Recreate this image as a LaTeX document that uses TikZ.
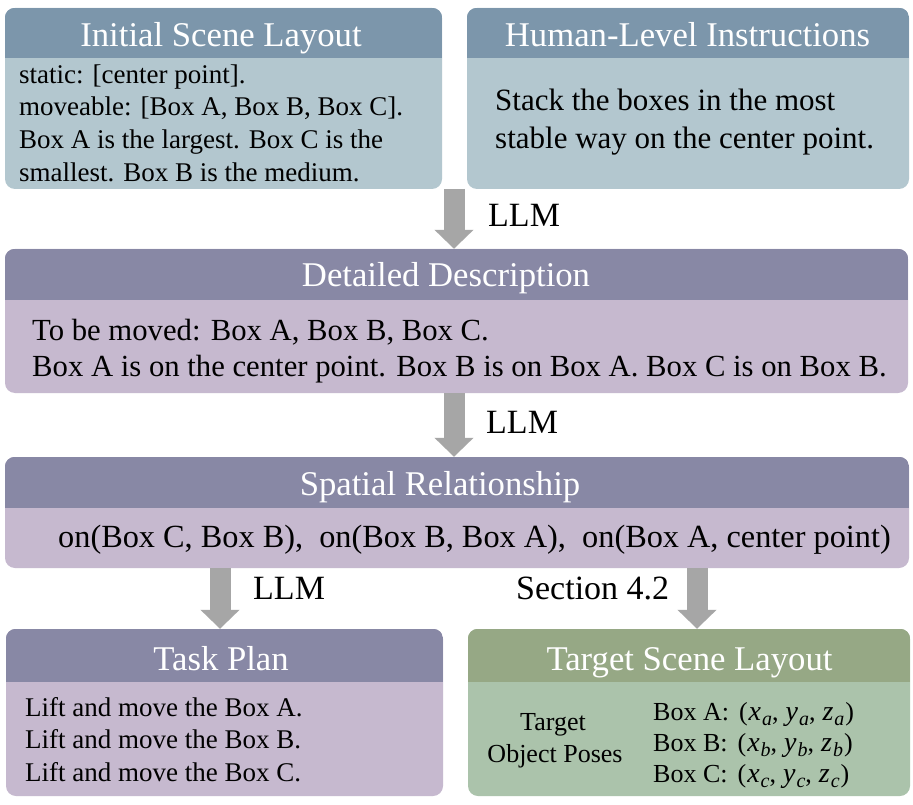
\documentclass[tikz,border=0pt]{standalone}
\usepackage{fontspec}
\setmainfont{Liberation Serif}
\usetikzlibrary{arrows.meta,calc}
\definecolor{bhead}{HTML}{7C96AB}
\definecolor{bbody}{HTML}{B3C7CF}
\definecolor{phead}{HTML}{8888A5}
\definecolor{pbody}{HTML}{C6B9CF}
\definecolor{ghead}{HTML}{96A885}
\definecolor{gbody}{HTML}{ABC3AB}
\definecolor{arrowgray}{HTML}{A6A6A6}
\tikzset{
  boxbody/.style={rectangle, rounded corners=10pt, inner sep=0pt, draw=none},
  hdrtext/.style={font=\fontsize{34.7}{40}\selectfont, text=white, anchor=base, inner sep=0pt},
  bodyS/.style={font=\fontsize{27}{32}\selectfont, anchor=base west, inner sep=0pt},
  bodyT/.style={font=\fontsize{26}{31}\selectfont, anchor=base, inner sep=0pt},
  bodyL/.style={font=\fontsize{31}{37}\selectfont, anchor=base west, inner sep=0pt},
  lbl/.style={font=\fontsize{34}{40}\selectfont, anchor=base west, inner sep=0pt},
  bigarrow/.style={draw=arrowgray, line width=21pt, -{Triangle[width=38pt,length=19pt]}},
}
\newcommand{\headerband}[3]{%
  \begin{scope}
    \clip[rounded corners=10pt] (#1.south west) rectangle (#1.north east);
    \fill[#2] (#1.north west) rectangle ([yshift=-#3pt]#1.north east);
  \end{scope}}
\newcommand{\vsub}[2]{{\fontsize{28}{30}\selectfont\textit{#1}}\hspace{1pt}\raisebox{-0.22em}{\fontsize{20}{21}\selectfont\textit{#2}}}
\newcommand{\poseof}[1]{(\hspace{1pt}\vsub{x}{#1},\hspace{7pt}\vsub{y}{#1},\hspace{7pt}\vsub{z}{#1}\hspace{1pt})}
\begin{document}
\begin{tikzpicture}[x=1pt,y=-1pt]
\useasboundingbox (0,0) rectangle (913,805);
\fill[white] (0,0) rectangle (913,805);

% boxes
\node[boxbody, fill=bbody, minimum width=437pt, minimum height=181pt] (tl) at (223.5,98.5) {};
\node[boxbody, fill=bbody, minimum width=442pt, minimum height=181pt] (tr) at (688,98.5) {};
\node[boxbody, fill=pbody, minimum width=903pt, minimum height=144pt] (dd) at (456.5,321) {};
\node[boxbody, fill=pbody, minimum width=904pt, minimum height=111pt] (sr) at (457,512.5) {};
\node[boxbody, fill=pbody, minimum width=437pt, minimum height=167pt] (tp) at (224.5,712.5) {};
\node[boxbody, fill=gbody, minimum width=442pt, minimum height=167pt] (ts) at (689,712.5) {};

\headerband{tl}{bhead}{50}
\headerband{tr}{bhead}{50}
\headerband{dd}{phead}{51}
\headerband{sr}{phead}{51}
\headerband{tp}{phead}{53}
\headerband{ts}{ghead}{53}

% header texts
\node[hdrtext] (tlh) at (221,47) {Initial Scene Layout};
\node[hdrtext] (trh) at (687.5,47) {Human-Level Instructions};
\node[hdrtext] (ddh) at (446,287) {Detailed Description};
\node[hdrtext] (srh) at (440,495) {Spatial Relationship};
\node[hdrtext] (tph) at (221,670) {Task Plan};
\node[hdrtext] (tsh) at (689.5,670) {Target Scene Layout};

% body texts
\node[bodyS] (tl1) at (19,84) {static: [center point].};
\node[bodyS] (tl2) at (19,116) {moveable: [Box A, Box B, Box C].};
\node[bodyS] (tl3) at (19,149) {Box A is the largest. Box C is the};
\node[bodyS] (tl4) at (19,182) {smallest. Box B is the medium.};

\node[bodyL] (tr1) at (495,111) {Stack the boxes in the most};
\node[bodyL] (tr2) at (495,149) {stable way on the center point.};

\node[bodyL, font=\fontsize{30.7}{37}\selectfont] (dd1) at (32,340) {To be moved: Box A, Box B, Box C.};
\node[bodyL, font=\fontsize{30.7}{37}\selectfont] (dd2) at (32,376) {Box A is on the center point. Box B is on Box A. Box C is on Box B.};

\node[bodyL, font=\fontsize{32.3}{38}\selectfont] (sr1) at (58,547) {on(Box C, Box B),\ \ on(Box B, Box A),\ \ on(Box A, center point)};

\node[bodyS] (tp1) at (25,716) {Lift and move the Box A.};
\node[bodyS] (tp2) at (25,748) {Lift and move the Box B.};
\node[bodyS] (tp3) at (25,781) {Lift and move the Box C.};

\node[bodyT] (ts1) at (553,730) {Target};
\node[bodyT] (ts2) at (555,762) {Object Poses};
\node[bodyT, anchor=base west] (tsa) at (653,720) {Box A:\hspace{10pt}\poseof{a}};
\node[bodyT, anchor=base west] (tsb) at (653,751) {Box B:\hspace{10pt}\poseof{b}};
\node[bodyT, anchor=base west] (tsc) at (653,782) {Box C:\hspace{10pt}\poseof{c}};

% arrows
\coordinate (a1) at (454,189);
\coordinate (a2) at (454,393);
\coordinate (a3) at (220,568);
\coordinate (a4) at (697,568);
\draw[bigarrow] (a1) -- (a1 |- dd.north);
\draw[bigarrow] (a2) -- (a2 |- sr.north);
\draw[bigarrow] (a3) -- (a3 |- tp.north);
\draw[bigarrow] (a4) -- (a4 |- ts.north);

% arrow labels
\node[lbl] (l1) at (488,226) {LLM};
\node[lbl] (l2) at (486,433) {LLM};
\node[lbl] (l3) at (253,599) {LLM};
\node[lbl] (l4) at (516,599) {Section 4.2};
\end{tikzpicture}
\end{document}
